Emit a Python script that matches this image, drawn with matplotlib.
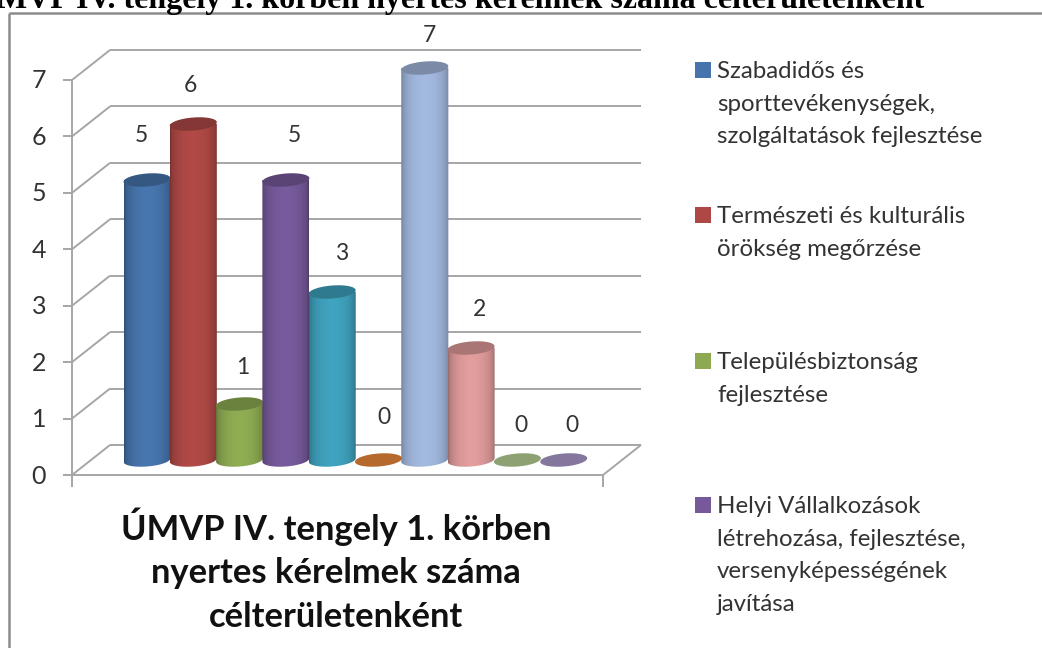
import numpy as np
import matplotlib
matplotlib.use("Agg")
import matplotlib.pyplot as plt
from matplotlib.patches import Polygon, Rectangle

# values
values = [5, 6, 1, 5, 3, 0, 7, 2, 0, 0]
colors = ["#4674AB", "#AE4845", "#8DAA52", "#75599A", "#3FA0BC", "#B5692D",
          "#A0B6DC", "#DE9A9A", "#8DA173", "#84769C"]
yticks = [0, 1, 2, 3, 4, 5, 6, 7]
legend_labels = [
    "Szabadidős és\nsporttevékenységek,\nszolgáltatások fejlesztése",
    "Természeti és kulturális\nörökség megőrzése",
    "Településbiztonság\nfejlesztése",
    "Helyi Vállalkozások\nlétrehozása, fejlesztése,\nversenyképességének\njavítása",
]
chart_title = "ÚMVP IV. tengely 1. körben\nnyertes kérelmek száma\ncélterületenként"
page_title = "ÚMVP IV. tengely 1. körben nyertes kérelmek száma célterületenként"

# layout, in pixels of the picture
legend_y = [70, 215, 361, 505]
label_dx = [-6, -3, 3, 9, 9, 5, 5, 8, 4, 8]
label_dy = [44, 38, 37, 44, 38, 42, 32, 38, 34, 34]

W, H = 1042, 648
X0, XSTEP = 147, 46.3     # pixel of first bar, pixels per category
Y0, YSTEP = 460, 56.0     # pixel of value 0 on bar plane, pixels per unit
BAR_W = 0.5 * 47 / XSTEP
ELL_H = 6.5 / YSTEP
TILT = 0.075 * XSTEP / YSTEP
GREY = "#A6A6A6"
TEXT = "#333333"
FONT = ["Lato", "DejaVu Sans"]


def ellipse_xy(cx, cy):
    t = np.linspace(0, 2 * np.pi, 80)
    dx = BAR_W * np.cos(t)
    return cx + dx, cy + ELL_H * np.sin(t) + TILT * dx


def shade(hex_color, factor):
    rgb = np.array(matplotlib.colors.to_rgb(hex_color))
    return tuple(np.clip(rgb * factor, 0, 1))


def draw_cylinder(ax, x, v, color):
    z = 3 + x * 0.01
    if v == 0:
        ex, ey = ellipse_xy(x, 0)
        ax.fill(ex, ey, color=color, lw=0, zorder=z)
        return
    # body outline: lower half of base ellipse + straight sides
    t = np.linspace(np.pi, 2 * np.pi, 40)
    low_x = BAR_W * np.cos(t)
    low_y = ELL_H * np.sin(t) + TILT * low_x
    body = np.column_stack([
        np.r_[x + low_x, x + BAR_W, x - BAR_W],
        np.r_[low_y, v, v],
    ])
    s = np.linspace(-1, 1, 64)
    factor = 0.68 + 0.34 * np.sqrt(np.clip(1 - s ** 2, 0, 1))
    img = np.array([[shade(color, f) for f in factor]])
    im = ax.imshow(img, extent=[x - BAR_W, x + BAR_W, -0.2, v], aspect="auto",
                   zorder=z, interpolation="bilinear")
    patch = Polygon(body, closed=True, transform=ax.transData, fc="none", ec="none")
    ax.add_patch(patch)
    im.set_clip_path(patch)
    tx, ty = ellipse_xy(x, v)
    ax.fill(tx, ty, color=shade(color, 0.76), lw=0, zorder=z + 0.001)


fig = plt.figure(figsize=(W / 100, H / 100), dpi=100)
ax = fig.add_axes([0, 0, 1, 1])
# axes limits chosen so that one category = XSTEP px and one unit = YSTEP px
ax.set_xlim(-X0 / XSTEP, (W - X0) / XSTEP)
ax.set_ylim((Y0 - H) / YSTEP, Y0 / YSTEP)
ax.axis("off")


def px(x, y):
    return (x - X0) / XSTEP, (Y0 - y) / YSTEP


def pline(xs, ys, color=GREY, **kw):
    pts = [px(a, b) for a, b in zip(xs, ys)]
    ax.plot([p[0] for p in pts], [p[1] for p in pts], color=color,
            solid_capstyle="butt", **kw)


# outer chart frame, only left and top are in the picture
pline([8.5, 8.5], [13, 648], color="#8C8C8C", lw=1.8, zorder=1)
pline([8.5, W], [13, 13], color="#8C8C8C", lw=1.8, zorder=1)

# axis, floor and back wall
AX_L, AX_R, BASE, TOP = 72, 603, 475, 80
DX, DY = 38, 30
STEP = (BASE - TOP) / 7
pline([AX_L, AX_L], [BASE + 12, TOP], lw=1.4, zorder=2)
pline([AX_L, AX_R], [BASE, BASE], lw=1.4, zorder=2)
pline([AX_R, AX_R], [BASE, BASE + 12], lw=1.4, zorder=2)
pline([AX_R, AX_R + DX], [BASE, BASE - DY], lw=1.4, zorder=2)
for v in yticks:
    yy = BASE - v * STEP
    pline([AX_L - 9, AX_L], [yy, yy], lw=1.4, zorder=2)
    pline([AX_L, AX_L + DX], [yy, yy - DY], lw=1.4, zorder=2)
    pline([AX_L + DX, AX_R + DX], [yy - DY, yy - DY], lw=1.4, zorder=2)
    lx, ly = px(46, yy + 1)
    ax.text(lx, ly, str(v), ha="right", va="center", fontsize=18,
            color=TEXT, family=FONT)

# bars, drawn left to right so later ones overlap
xpos = np.arange(len(values))
for x, v, c, dx, dy in zip(xpos, values, colors, label_dx, label_dy):
    draw_cylinder(ax, x, v, c)
    ax.text(x + dx / XSTEP, v + dy / YSTEP, str(v), ha="center", va="center",
            fontsize=16.5, color=TEXT, family=FONT, zorder=6)

# legend on the right
for lab, yy, c in zip(legend_labels, legend_y, colors):
    sx, sy = px(695, yy + 8)
    ax.add_patch(Rectangle((sx, sy), 16 / XSTEP, 16 / YSTEP, fc=c, ec="none", zorder=4))
    tx, ty = px(717, yy - 9)
    ax.text(tx, ty, lab, ha="left", va="top", fontsize=17.3, color=TEXT,
            family=FONT, linespacing=1.68)

# title inside the chart
tx, ty = px(336, 570)
ax.text(tx, ty, chart_title, ha="center", va="center", fontsize=24.8,
        fontweight="bold", color="#111111", family=FONT, linespacing=1.45)

# heading of the page, cut off by the top edge
tx, ty = px(449, 8)
ax.text(tx, ty, page_title, ha="center", va="baseline",
        fontsize=23, fontweight="bold", color="black", family="Liberation Serif")

fig.savefig("out.png", dpi=100)
